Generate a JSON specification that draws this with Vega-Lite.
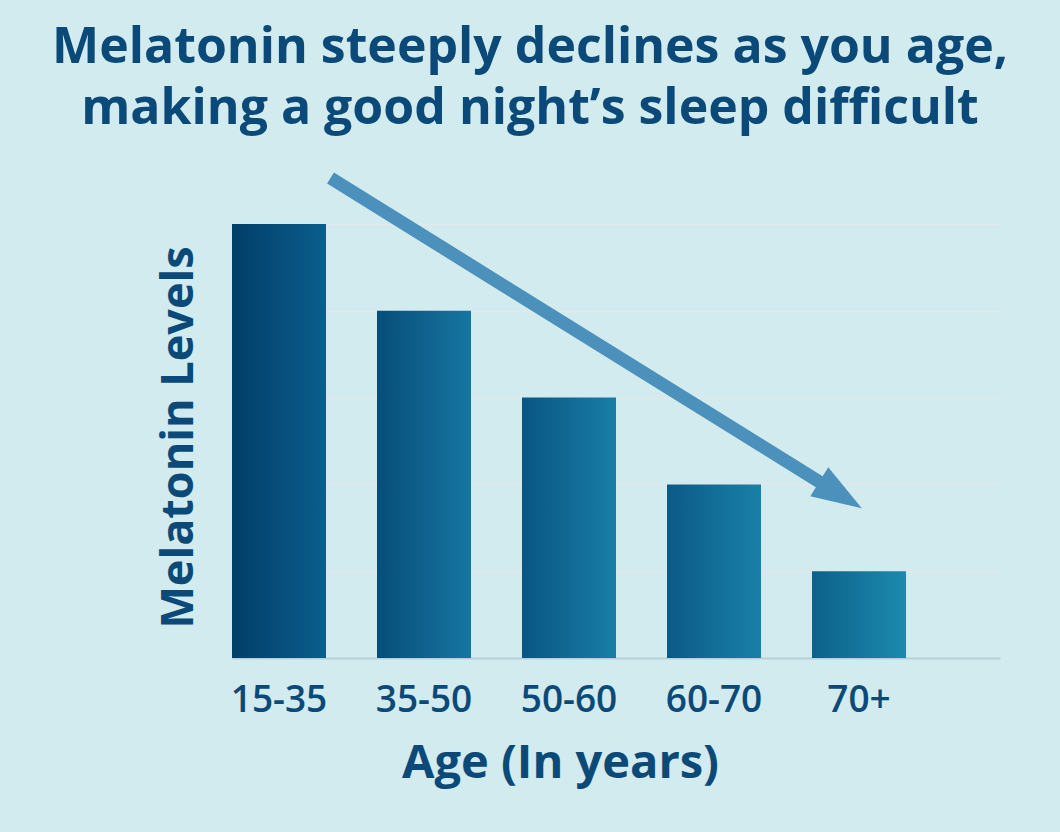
{
  "$schema": "https://vega.github.io/schema/vega-lite/v6.json",
  "width": 768,
  "height": 434,
  "autosize": {"type": "none"},
  "padding": {"left": 232, "top": 224, "right": 60, "bottom": 174},
  "background": "#d2ebef",
  "config": {"view": {"stroke": null}, "font": "Open Sans"},
  "title": {
    "text": ["Melatonin steeply declines as you age,", "making a good night’s sleep difficult"],
    "font": "Open Sans",
    "fontSize": 50,
    "fontWeight": "bold",
    "color": "#0b4a78",
    "lineHeight": 61,
    "anchor": "middle",
    "dx": -86,
    "offset": 37
  },
  "datasets": {
    "bars": [
      {"age": "15-35", "level": 5},
      {"age": "35-50", "level": 4},
      {"age": "50-60", "level": 3},
      {"age": "60-70", "level": 2},
      {"age": "70+", "level": 1}
    ],
    "arrow": [
      {"x": 0.684, "y": 5.53, "x2": 4.226, "y2": 1.878}
    ]
  },
  "resolve": {"scale": {"x": "independent"}},
  "layer": [
    {
      "data": {"name": "bars"},
      "mark": {"type": "bar"},
      "encoding": {
        "x": {
          "field": "age",
          "type": "nominal",
          "sort": null,
          "scale": {"paddingInner": 0.3517, "paddingOuter": 0.3241, "align": 0},
          "axis": {
            "labelAngle": 0,
            "labelFont": "Open Sans",
            "labelFontSize": 37,
            "labelFontWeight": 600,
            "labelColor": "#0b4a78",
            "labelPadding": 24,
            "ticks": false,
            "domain": true,
            "domainColor": "#b7d0d7",
            "domainWidth": 2,
            "grid": false,
            "title": "Age (In years)",
            "titleFont": "Open Sans",
            "titleFontSize": 47,
            "titleFontWeight": "bold",
            "titleColor": "#0b4a78",
            "titleX": 328,
            "titleY": 119,
            "titleAlign": "center",
            "titleBaseline": "alphabetic"
          }
        },
        "y": {
          "field": "level",
          "type": "quantitative",
          "scale": {"domain": [0, 5], "nice": false},
          "axis": {
            "values": [1, 2, 3, 4, 5],
            "labels": false,
            "ticks": false,
            "domain": false,
            "grid": true,
            "gridColor": "#e4e8eb",
            "gridWidth": 1.5,
            "gridOpacity": 0.9,
            "title": "Melatonin Levels",
            "titleFont": "Open Sans",
            "titleFontSize": 45,
            "titleFontWeight": "bold",
            "titleColor": "#0b4a78",
            "titleX": -40,
            "titleY": 213,
            "titleAngle": -90,
            "titleAlign": "center",
            "titleBaseline": "alphabetic"
          }
        },
        "color": {
          "condition": [
            {"test": "datum.age === '15-35'", "value": {"gradient": "linear", "stops": [{"offset": 0, "color": "#023e69"}, {"offset": 1, "color": "#0a5e8c"}]}},
            {"test": "datum.age === '35-50'", "value": {"gradient": "linear", "stops": [{"offset": 0, "color": "#074d79"}, {"offset": 1, "color": "#1676a0"}]}},
            {"test": "datum.age === '50-60'", "value": {"gradient": "linear", "stops": [{"offset": 0, "color": "#095583"}, {"offset": 1, "color": "#187ea6"}]}},
            {"test": "datum.age === '60-70'", "value": {"gradient": "linear", "stops": [{"offset": 0, "color": "#0b5a86"}, {"offset": 1, "color": "#1a80a8"}]}}
          ],
          "value": {"gradient": "linear", "stops": [{"offset": 0, "color": "#0c6189"}, {"offset": 1, "color": "#1c8aae"}]}
        }
      }
    },
    {
      "data": {"name": "arrow"},
      "mark": {"type": "rule", "color": "#4b91bb", "strokeWidth": 13, "strokeCap": "butt"},
      "encoding": {
        "x": {"field": "x", "type": "quantitative", "scale": {"domain": [0, 5.3333], "nice": false, "zero": false}, "axis": null},
        "x2": {"field": "x2"},
        "y": {"field": "y", "type": "quantitative"},
        "y2": {"field": "y2"}
      }
    },
    {
      "data": {"name": "arrow"},
      "mark": {"type": "point", "shape": "M-1,-0.68L1,0L-1,0.68Z", "size": 2500, "filled": true, "opacity": 1, "color": "#4b91bb", "angle": 31.8, "strokeWidth": 0},
      "encoding": {
        "x": {"field": "x2", "type": "quantitative", "scale": {"domain": [0, 5.3333], "nice": false, "zero": false}, "axis": null},
        "y": {"field": "y2", "type": "quantitative"}
      }
    }
  ]
}
